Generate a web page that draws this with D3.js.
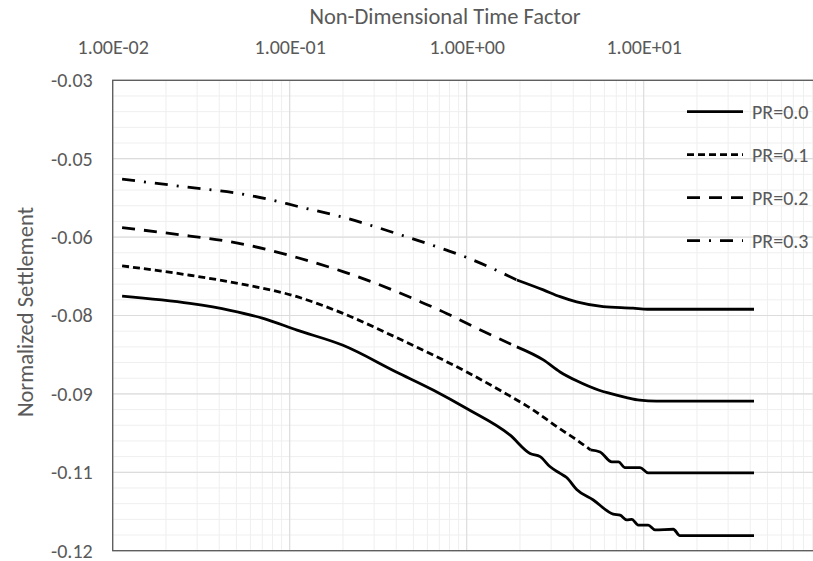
<html>
<head>
  <script src="https://cdn.jsdelivr.net/npm/d3@7/dist/d3.min.js"></script>
  <style>
    * { margin: 0; padding: 0; }
    body { background: white; font-family: Carlito, Calibri, Lato, sans-serif; }
    svg text { fill: #595959; }
  </style>
</head>
<body>
<div id="chart"></div>
<script>
  // tick values and labels
  var timeTicks = [0.01, 0.1, 1, 10];
  var timeTickLabels = ["1.00E-02", "1.00E-01", "1.00E+00", "1.00E+01"];
  var settleTicks = [-0.03, -0.045, -0.06, -0.075, -0.09, -0.105, -0.12];
  var settleTickLabels = ["-0.03", "-0.05", "-0.06", "-0.08", "-0.09", "-0.11", "-0.12"];
  var seriesNames = ["PR=0.0", "PR=0.1", "PR=0.2", "PR=0.3"];

  // time factor / normalized settlement
  var t0 = [0.0113, 0.0273, 0.046, 0.07, 0.11, 0.2, 0.4, 0.65, 1.0, 1.76, 2.28, 2.6, 2.95, 3.37, 3.67, 4.18, 5.19, 6.73, 7.35, 8.02, 8.56, 9.32, 10.6, 11.6, 14.7, 16.0, 42];
  var s0 = [-0.0713, -0.0727, -0.0740, -0.0755, -0.0778, -0.0807, -0.0858, -0.0893, -0.0928, -0.0979, -0.1014, -0.1020, -0.1039, -0.1052, -0.1060, -0.1083, -0.1103, -0.1130, -0.1132, -0.1141, -0.1140, -0.1151, -0.1151, -0.1160, -0.1159, -0.1171, -0.1171];

  var t1 = [0.0113, 0.0273, 0.05, 0.11, 0.2, 0.4, 0.65, 1.0, 1.54, 2.38, 3.37, 4.18, 5.0, 5.67, 6.6, 7.2, 7.84, 9.53, 10.6, 42];
  var s1 = [-0.0655, -0.0673, -0.0688, -0.0714, -0.0746, -0.0792, -0.0826, -0.0858, -0.0893, -0.0931, -0.0967, -0.0988, -0.1007, -0.1011, -0.1030, -0.1030, -0.1041, -0.1041, -0.1051, -0.1051];

  var t2 = [0.0113, 0.0273, 0.05, 0.11, 0.2, 0.4, 0.55, 0.77, 1.0, 1.92, 2.71, 3.37, 4.18, 5.6, 6.45, 8.0, 9.5, 11.8, 42];
  var s2 = [-0.0582, -0.0598, -0.0611, -0.0639, -0.0666, -0.0704, -0.0724, -0.0746, -0.0765, -0.0810, -0.0835, -0.0858, -0.0875, -0.0893, -0.0899, -0.0907, -0.0912, -0.0914, -0.0914];

  var t3 = [0.0113, 0.0273, 0.05, 0.077, 0.11, 0.2, 0.4, 0.77, 1.0, 1.92, 2.71, 3.37, 4.18, 5.9, 8.7, 10.5, 42];
  var s3 = [-0.0489, -0.0505, -0.0516, -0.0528, -0.0541, -0.0562, -0.0593, -0.0625, -0.0639, -0.0682, -0.0701, -0.0714, -0.0724, -0.0733, -0.0736, -0.0738, -0.0738];

  var times = [t0, t1, t2, t3];
  var settles = [s0, s1, s2, s3];
  // dash pattern per series; dense points draw solid from this time on (like excel)
  var dashes = [null, "7,4", "13,9", "13,9,2,9"];
  var solidFrom = [0, 5.0, 1.92, 1.92];

  var w = 813, h = 561;
  var plotLeft = 112.7, plotTop = 80.3, plotBottom = 550.7;

  var svg = d3.select("#chart").append("svg")
    .attr("width", w)
    .attr("height", h);

  var x = d3.scaleLog().domain([0.01, 100]).range([plotLeft, plotLeft + 4 * 177]);
  var y = d3.scaleLinear().domain([-0.12, -0.03]).range([plotBottom, plotTop]);
  var plotRight = x(100);

  // minor grid
  var minorX = [];
  for (var e = -2; e < 2; e++) {
    for (var k = 2; k < 10; k++) minorX.push(k * Math.pow(10, e));
  }
  svg.append("g").selectAll("line").data(minorX).enter().append("line")
    .attr("x1", function(d) { return x(d); }).attr("x2", function(d) { return x(d); })
    .attr("y1", plotTop).attr("y2", plotBottom)
    .attr("stroke", "#efefef").attr("stroke-width", 1);

  var minorY = d3.range(0, 31).map(function(i) { return -0.12 + i * 0.003; });
  svg.append("g").selectAll("line").data(minorY).enter().append("line")
    .attr("x1", plotLeft).attr("x2", plotRight)
    .attr("y1", function(d) { return y(d); }).attr("y2", function(d) { return y(d); })
    .attr("stroke", "#efefef").attr("stroke-width", 1);

  // major grid
  svg.append("g").selectAll("line").data(timeTicks.concat([100])).enter().append("line")
    .attr("x1", function(d) { return x(d); }).attr("x2", function(d) { return x(d); })
    .attr("y1", plotTop).attr("y2", plotBottom)
    .attr("stroke", "#dcdcdc").attr("stroke-width", 1.2);
  svg.append("g").selectAll("line").data(settleTicks).enter().append("line")
    .attr("x1", plotLeft).attr("x2", plotRight)
    .attr("y1", function(d) { return y(d); }).attr("y2", function(d) { return y(d); })
    .attr("stroke", "#dcdcdc").attr("stroke-width", 1.2);

  // plot border
  svg.append("rect")
    .attr("x", plotLeft).attr("y", plotTop)
    .attr("width", plotRight - plotLeft).attr("height", plotBottom - plotTop)
    .attr("fill", "none").attr("stroke", "#595959").attr("stroke-width", 1.3);

  // axes
  var xAxis = d3.axisTop(x).tickValues(timeTicks)
    .tickFormat(function(d, i) { return timeTickLabels[i]; })
    .tickSize(0).tickPadding(26);
  var gx = svg.append("g").attr("transform", "translate(0," + plotTop + ")").call(xAxis);
  gx.select(".domain").remove();
  gx.selectAll("text").style("font-size", "20px").style("font-family", "Carlito, Calibri, Lato, sans-serif").attr("fill", "#595959");

  var yAxis = d3.axisLeft(y).tickValues(settleTicks)
    .tickFormat(function(d, i) { return settleTickLabels[i]; })
    .tickSize(0).tickPadding(20);
  var gy = svg.append("g").attr("transform", "translate(" + plotLeft + ",0)").call(yAxis);
  gy.select(".domain").remove();
  gy.selectAll("text").style("font-size", "20px").style("font-family", "Carlito, Calibri, Lato, sans-serif").attr("fill", "#595959");

  // titles
  svg.append("text")
    .attr("x", 445).attr("y", 24)
    .attr("text-anchor", "middle")
    .style("font-size", "22.5px")
    .text("Non-Dimensional Time Factor");

  svg.append("text")
    .attr("transform", "translate(33,312) rotate(-90)")
    .attr("text-anchor", "middle")
    .style("font-size", "22.5px")
    .text("Normalized Settlement");

  // curves
  var line = d3.line()
    .x(function(d) { return x(d[0]); })
    .y(function(d) { return y(d[1]); })
    .curve(d3.curveMonotoneX);

  var plot = svg.append("g");
  for (var s = 0; s < 4; s++) {
    var pts = times[s].map(function(t, i) { return [t, settles[s][i]]; });
    var cut = pts.findIndex(function(p) { return p[0] >= solidFrom[s]; });
    if (dashes[s] && cut > 0) {
      plot.append("path").datum(pts.slice(0, cut + 1))
        .attr("d", line).attr("fill", "none")
        .attr("stroke", "black").attr("stroke-width", 2.8)
        .attr("stroke-dasharray", dashes[s]);
    }
    plot.append("path").datum(pts.slice(Math.max(cut, 0)))
      .attr("d", line).attr("fill", "none")
      .attr("stroke", "black").attr("stroke-width", 2.8)
      .attr("stroke-linejoin", "round");
  }

  // legend
  var legend = svg.append("g").selectAll("g").data(seriesNames).enter().append("g")
    .attr("transform", function(d, i) { return "translate(687," + (111.7 + i * 43) + ")"; });
  legend.append("line")
    .attr("x1", 0).attr("x2", 56).attr("y1", 0).attr("y2", 0)
    .attr("stroke", "black").attr("stroke-width", 2.8)
    .attr("stroke-dasharray", function(d, i) { return dashes[i]; });
  legend.append("text")
    .attr("x", 65).attr("y", 0).attr("dy", "0.35em")
    .style("font-size", "20px")
    .text(function(d) { return d; });
</script>
</body>
</html>
